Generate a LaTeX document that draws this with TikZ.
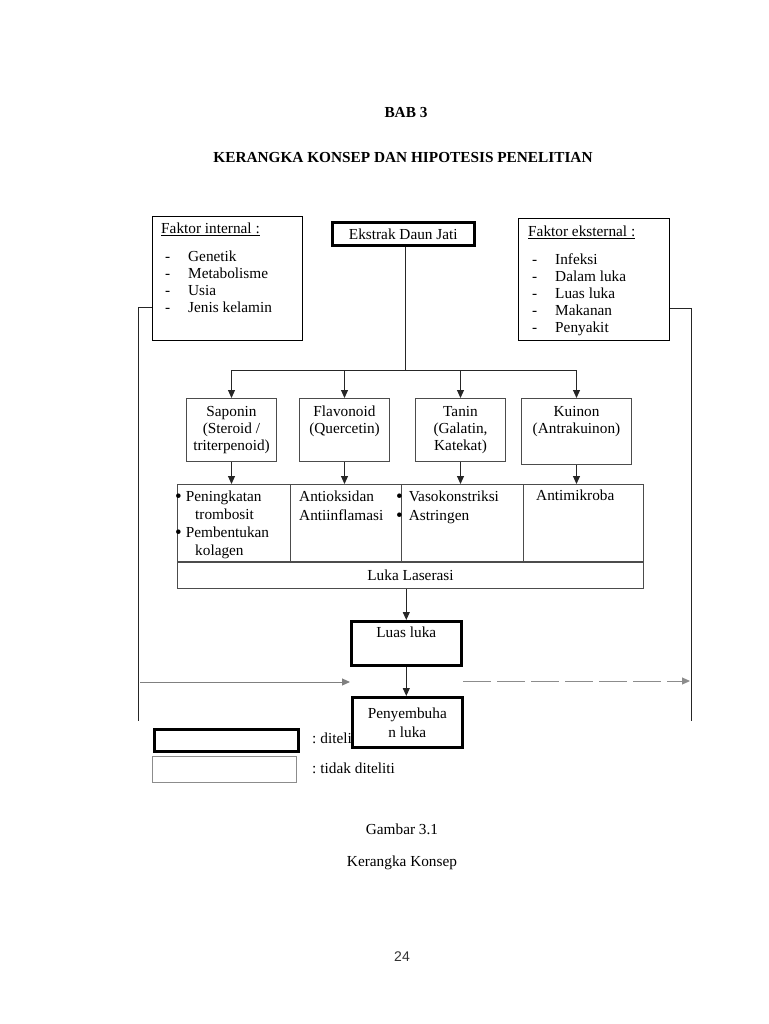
\documentclass[tikz,border=0pt]{standalone}
\usepackage{fontspec}
\setmainfont{Liberation Serif}
\newfontfamily\pagenofont{Liberation Sans}
\usetikzlibrary{arrows.meta,positioning}

\newcommand{\ditem}[1]{\makebox[27pt][l]{\hspace*{4pt}-}#1}
\newcommand{\bigbullet}{\raisebox{-0.5pt}{\fontsize{19}{17}\selectfont\textbullet}}

\begin{document}
\begin{tikzpicture}[
        x=1pt, y=-1pt,
        font=\fontsize{15.3}{17}\selectfont,
        plainbox/.style={rectangle, draw=black!70, line width=1pt, inner sep=0pt, anchor=north west},
        heavybox/.style={rectangle, draw=black, line width=2.6pt, inner sep=0pt, anchor=north west, fill=white},
        txt/.style={inner sep=0pt, align=left, anchor=north west},
        ctxt/.style={inner sep=0pt, align=center},
        link/.style={line width=1pt, color=black!85},
        arr/.style={-{Triangle[length=8pt,width=7pt]}, line width=1pt, color=black!85}
    ]
    \useasboundingbox (0,0) rectangle (768,1024);

    % Headings
    \node[font=\fontsize{15.3}{17}\selectfont\bfseries] (bab) at (406,113) {BAB 3};
    \node[font=\fontsize{15.3}{17}\selectfont\bfseries] (judul) at (403,158) {KERANGKA KONSEP DAN HIPOTESIS PENELITIAN};

    % Factors and extract
    \node[plainbox, draw=black, minimum width=150, minimum height=124] (internal) at (152,216) {};
    \node[txt] (internaltxt) at (161,223) {\underline{Faktor internal :}\\[11pt] \ditem{Genetik}\\ \ditem{Metabolisme}\\ \ditem{Usia}\\ \ditem{Jenis kelamin}};
    \node[heavybox, minimum width=142, minimum height=23] (ekstrak) at (331,221) {Ekstrak Daun Jati};
    \node[plainbox, draw=black, minimum width=151, minimum height=122] (external) at (518,218) {};
    \node[txt] (externaltxt) at (528,226) {\underline{Faktor eksternal :}\\[11pt] \ditem{Infeksi}\\ \ditem{Dalam luka}\\ \ditem{Luas luka}\\ \ditem{Makanan}\\ \ditem{Penyakit}};

    % Compounds
    \node[plainbox, minimum width=90, minimum height=63] (saponin) at (186,398) {};
    \node[ctxt, below=8pt of saponin.north] (saponintxt) {Saponin\\(Steroid /\\triterpenoid)};
    \node[plainbox, minimum width=90, minimum height=63] (flavonoid) at (299,398) {};
    \node[ctxt, below=8pt of flavonoid.north] (flavonoidtxt) {Flavonoid\\(Quercetin)};
    \node[plainbox, minimum width=90, minimum height=63] (tanin) at (415,398) {};
    \node[ctxt, below=8pt of tanin.north] (tanintxt) {Tanin\\(Galatin,\\Katekat)};
    \node[plainbox, minimum width=110, minimum height=66] (kuinon) at (521,398) {};
    \node[ctxt, below=8pt of kuinon.north] (kuinontxt) {Kuinon\\(Antrakuinon)};

    % Effects
    \node[plainbox, minimum width=113, minimum height=77] (cellA) at (177,484) {};
    \node[plainbox, minimum width=111, minimum height=77] (cellB) at (290,484) {};
    \node[plainbox, minimum width=122, minimum height=77] (cellC) at (401,484) {};
    \node[plainbox, minimum width=120, minimum height=77] (cellD) at (523,484) {};
    \node[txt, font=\fontsize{15.3}{18}\selectfont] (cellAtxt) at (175,491) {\bigbullet\hspace{4pt}Peningkatan\\\hspace*{20pt}trombosit\\\bigbullet\hspace{4pt}Pembentukan\\\hspace*{20pt}kolagen};
    \node[txt, font=\fontsize{15.3}{19}\selectfont] (cellBtxt) at (299,491) {Antioksidan\\Antiinflamasi};
    \node[txt, font=\fontsize{15.3}{19}\selectfont] (cellCtxt) at (396,491) {\bigbullet\hspace{6pt}Vasokonstriksi\\\bigbullet\hspace{6pt}Astringen};
    \node[txt] (cellDtxt) at (536,490) {Antimikroba};
    \node[plainbox, fill=white, minimum width=466, minimum height=26] (laserasi) at (177,562) {Luka Laserasi};

    % Outcome
    \node[heavybox, minimum width=110, minimum height=44] (luas) at (350,620) {};
    \node[ctxt, below=7pt of luas.north] (luastxt) {Luas luka};

    % Legend
    \node[heavybox, minimum width=144, minimum height=22] (keyheavy) at (153,728) {};
    \node[anchor=west, inner sep=0pt] (keyheavytxt) at (312,738) {:\hspace{4pt}diteliti};
    \node[plainbox, draw=black!45, minimum width=144, minimum height=26] (keyplain) at (152,756) {};
    \node[anchor=west, inner sep=0pt] (keyplaintxt) at (312,768) {:\hspace{4pt}tidak diteliti};

    \node[heavybox, minimum width=110, minimum height=50, align=center, font=\fontsize{15.3}{19}\selectfont] (sembuh) at (351,696) {Penyembuha\\n luka};

    % Connectors
    \coordinate (split) at (405,370);
    \draw[link] (split |- ekstrak.south) -- (split);
    \draw[link] (saponin.north |- split) -- (kuinon.north |- split);
    \foreach \b in {saponin, flavonoid, tanin, kuinon}
        \draw[arr] (\b.north |- split) -- (\b.north);
    \foreach \b/\c in {saponin/cellA, flavonoid/cellB, tanin/cellC, kuinon/cellD}
        \draw[arr] (\b.south) -- (\b.south |- \c.north);
    \draw[arr] (luas.north |- laserasi.south) -- (luas.north);
    \draw[arr] (luas.south) -- (luas.south |- sembuh.north);

    % Side factors
    \coordinate (leftdrop) at (138,721);
    \coordinate (rightdrop) at (691,721);
    \draw[link] ([yshift=-29pt]internal.west) -| (leftdrop);
    \draw[link] ([yshift=-29pt]external.east) -| (rightdrop);
    \coordinate (leftin) at (140,682);
    \coordinate (leftout) at (350,682);
    \coordinate (rightin) at (463,681);
    \coordinate (rightout) at (690,681);
    \draw[arr, color=black!50] (leftin) -- (leftout);
    \draw[arr, color=black!45, dash pattern=on 28pt off 6pt] (rightin) -- (rightout);

    % Caption
    \node (gambar) at (402,829) {Gambar 3.1};
    \node (caption) at (402,863) {Kerangka Konsep};
    \node[font=\pagenofont\fontsize{14}{17}\selectfont, text=black!80] (pageno) at (402,957) {24};

\end{tikzpicture}
\end{document}
